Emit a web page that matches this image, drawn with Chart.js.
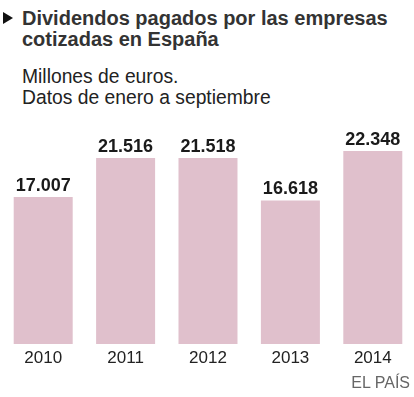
<!DOCTYPE html>
<html>
<head>
<meta charset="utf-8">
<script src="https://cdn.jsdelivr.net/npm/chart.js@4/dist/chart.umd.min.js"></script>
<style>
  html, body { margin: 0; padding: 0; background: #fff; }
  body { width: 414px; height: 397px; position: relative; overflow: hidden; font-family: "Liberation Sans", Arial, sans-serif; }
  .titulo { position: absolute; left: 22px; top: 8px; font-size: 20px; font-weight: bold; line-height: 21px; color: #333; }
  .bala { position: absolute; left: 3px; top: 12px; width: 0; height: 0; border-top: 6px solid transparent; border-bottom: 6px solid transparent; border-left: 10px solid #111; }
  .sub { position: absolute; left: 22px; top: 66px; font-size: 19.3px; line-height: 21px; color: #222; }
  .fuente { position: absolute; right: 4px; top: 374px; font-size: 16px; color: #666; }
  #wrap { position: absolute; left: 0; top: 128px; width: 414px; height: 246px; }
</style>
</head>
<body>
<div class="bala"></div>
<div class="titulo">Dividendos pagados por las empresas<br>cotizadas en España</div>
<div class="sub">Millones de euros.<br>Datos de enero a septiembre</div>
<div id="wrap"><canvas id="grafico"></canvas></div>
<div class="fuente">EL PAÍS</div>
<script>
// datos
const anios = ["2010", "2011", "2012", "2013", "2014"];
const dividendos = [17007, 21516, 21518, 16618, 22348];

const formato = (v) => String(v).replace(/\B(?=(\d{3})+(?!\d))/g, ".");

// etiquetas encima de las barras
const etiquetas = {
  id: "etiquetas",
  afterDatasetsDraw(chart) {
    const ctx = chart.ctx;
    ctx.save();
    ctx.font = "bold 18px 'Liberation Sans', Arial, sans-serif";
    ctx.fillStyle = "#1a1a1a";
    ctx.textAlign = "center";
    ctx.textBaseline = "alphabetic";
    chart.getDatasetMeta(0).data.forEach((bar, i) => {
      ctx.fillText(formato(dividendos[i]), bar.x, bar.y - 6);
    });
    ctx.restore();
  },
};

new Chart(document.getElementById("grafico"), {
  type: "bar",
  data: {
    labels: anios,
    datasets: [
      {
        data: dividendos,
        backgroundColor: "#e0c0cc",
        barPercentage: 0.716,
        categoryPercentage: 1,
      },
    ],
  },
  options: {
    responsive: true,
    maintainAspectRatio: false,
    animation: false,
    layout: { padding: { left: 2, right: 0, top: 0, bottom: 0 } },
    plugins: { legend: { display: false }, tooltip: { enabled: false } },
    scales: {
      x: {
        grid: { display: false, drawTicks: false },
        border: { display: false },
        ticks: {
          color: "#222",
          font: { size: 17, family: "'Liberation Sans', Arial, sans-serif" },
          padding: 4,
        },
        afterFit: (s) => { s.height = 30; },
      },
      y: {
        display: false,
        min: 0,
        max: 25000,
      },
    },
  },
  plugins: [etiquetas],
});
</script>
</body>
</html>
